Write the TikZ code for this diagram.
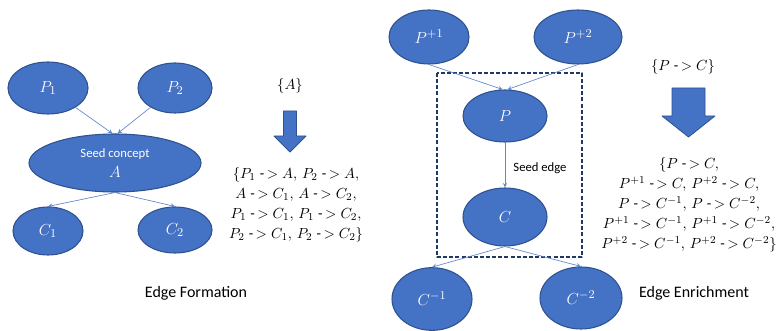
\documentclass[tikz,border=0pt]{standalone}
\usepackage{fontspec}
\setmainfont{Carlito}
\usetikzlibrary{shapes.geometric}
\definecolor{office}{HTML}{4472C4}
\definecolor{officeline}{HTML}{2F528F}
\definecolor{officedark}{HTML}{203864}
\newcommand{\edgeto}{\mathrel{\mbox{-}\mkern-2mu>}}
\begin{document}
\begin{tikzpicture}[x=.75pt,y=-.75pt,>=stealth,font=\fontsize{11}{15}\selectfont,line join=round]
		\tikzset{concept/.style={ellipse,draw=officeline,fill=office,line width=.8pt,text=white,inner sep=0pt,font=\fontsize{12.5}{15}\selectfont},
			edge/.style={->,draw=office!85,line width=.5pt},
			bigarrow/.style={fill=office,draw=officeline,line width=.6pt},
			seedbox/.style={draw=officedark,line width=1.1pt,dash pattern=on 3pt off 1.6pt},
			caption/.style={font=\fontsize{12}{14}\selectfont}}
		\useasboundingbox (0,0) rectangle (777,331);
		% edge formation
		\node[concept,minimum width=60pt,minimum height=39pt] (P1) at (48,88) {$P_1$};
		\node[concept,minimum width=55.5pt,minimum height=37.5pt] (P2) at (175,88) {$P_2$};
		\node[concept,minimum width=129pt,minimum height=43.5pt,align=center] (A) at (115,163)
		{{\fontsize{9.5}{13}\selectfont Seed concept}\\$A$};
		\node[concept,minimum width=52.5pt,minimum height=36pt] (C1) at (48,231) {$C_1$};
		\node[concept,minimum width=55.5pt,minimum height=34.5pt] (C2) at (175,230) {$C_2$};
		\draw[edge] (P1) -- (A.95);
		\draw[edge] (P2) -- (A.85);
		\draw[edge] (A.south) -- (C1.north);
		\draw[edge] (A.south) -- (C2.north);
		\node (setA) at (290,86) {$\{A\}$};
		\node[align=center] (formA) at (296,205) {$\{P_1 \edgeto A,\, P_2 \edgeto A,$\\
			$A \edgeto C_1,\, A \edgeto C_2,$\\
			$P_1 \edgeto C_1,\, P_1 \edgeto C_2,$\\
			$P_2 \edgeto C_1,\, P_2 \edgeto C_2\}$};
		\node[caption] (capA) at (196,293) {Edge Formation};
		% edge enrichment
		\draw[seedbox] (437,73) rectangle (582,257);
		\node[concept,minimum width=60pt,minimum height=40.5pt] (Pp1) at (429,37) {$P^{+1}$};
		\node[concept,minimum width=66pt,minimum height=40.5pt] (Pp2) at (578,37) {$P^{+2}$};
		\node[concept,minimum width=63pt,minimum height=39pt] (P) at (505,116) {$P$};
		\node[concept,minimum width=63pt,minimum height=43.5pt] (C) at (505,217) {$C$};
		\node[concept,minimum width=60pt,minimum height=47pt] (Cm1) at (432,299) {$C^{-1}$};
		\node[concept,minimum width=61.5pt,minimum height=46.5pt] (Cm2) at (581,298) {$C^{-2}$};
		\draw[edge] (Pp1.south) -- (P.95);
		\draw[edge] (Pp2.south) -- (P.85);
		\draw[edge] (P) -- (C);
		\draw[edge] (C.south) -- (Cm1.north);
		\draw[edge] (C.south) -- (Cm2.north);
		\node[font=\fontsize{9.5}{12}\selectfont] (seed) at (540,168) {Seed edge};
		\node (setP) at (683,67) {$\{P \edgeto C\}$};
		\node[align=center] (formP) at (689,205) {$\{P \edgeto C,$\\
			$P^{+1} \edgeto C,\, P^{+2} \edgeto C,$\\
			$P \edgeto C^{-1},\, P \edgeto C^{-2},$\\
			$P^{+1} \edgeto C^{-1},\, P^{+1} \edgeto C^{-2},$\\
			$P^{+2} \edgeto C^{-1},\, P^{+2} \edgeto C^{-2}\}$};
		\node[caption] (capP) at (694,293) {Edge Enrichment};
		% block arrows
		\foreach \cx/\yt/\sw/\hw/\se/\tip in {290/111/6.5/16/136/152, 688.5/88/16.5/26.5/116/137}
		\draw[bigarrow] (\cx-\sw,\yt) -- (\cx+\sw,\yt) -- (\cx+\sw,\se) -- (\cx+\hw,\se)
		-- (\cx,\tip) -- (\cx-\hw,\se) -- (\cx-\sw,\se) -- cycle;
\end{tikzpicture}
\end{document}
